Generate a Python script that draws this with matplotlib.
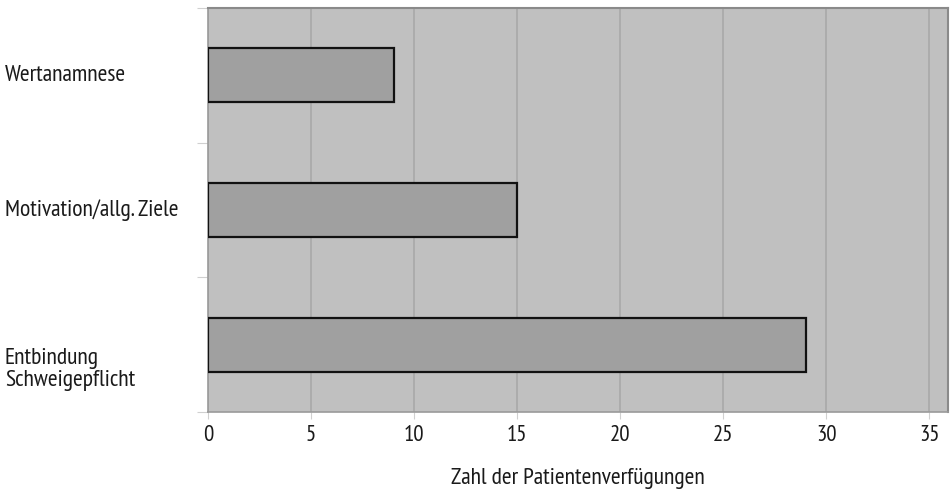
import matplotlib
matplotlib.use('agg')
import matplotlib.pyplot as plt
from matplotlib.transforms import blended_transform_factory, ScaledTranslation

plt.rcParams['font.family'] = ['PT Sans Narrow', 'DejaVu Sans']

# data (top to bottom as shown)
categories = ['Wertanamnese', 'Motivation/allg. Ziele', 'Entbindung\nSchweigepflicht']
counts = [9, 15, 29]
x_ticks = [0, 5, 10, 15, 20, 25, 30, 35]
x_label = 'Zahl der Patientenverfügungen'

fig = plt.figure(figsize=(9.51, 4.94), dpi=100)
ax = fig.add_axes([208 / 951, 1 - 412 / 494, (948 - 208) / 951, (412 - 8) / 494])

ax.set_facecolor('#c0c0c0')
ypos = list(range(len(categories)))
ax.barh(ypos, counts, height=0.4, color='#a0a0a0', edgecolor='#111111', linewidth=1.6, zorder=3)

ax.set_xlim(0, 35.9)
ax.set_ylim(2.5, -0.5)
ax.set_xticks(x_ticks)
ax.set_xticklabels([str(t) for t in x_ticks], fontsize=16.5, color='#1a1a1a')
ax.tick_params(axis='x', length=5, color='#d0d0d0', pad=4)
ax.grid(axis='x', color='#a9a9a9', linewidth=1.2, zorder=1)

# category boundary ticks on the y axis, labels left aligned at figure edge
ax.set_yticks([-0.5, 0.5, 1.5, 2.5])
ax.set_yticklabels([])
ax.tick_params(axis='y', length=8, color='#d0d0d0')
label_tr = blended_transform_factory(fig.transFigure, ax.transData)
for y, lab in zip(ypos, categories):
    # multi-line labels start at the bar centre and hang below it
    shift = ScaledTranslation(0, -18 / 72 * lab.count('\n'), fig.dpi_scale_trans)
    ax.text(5 / 951, y, lab, transform=label_tr + shift,
            ha='left', va='center', fontsize=17, color='#1a1a1a', linespacing=1.1)

ax.set_xlabel(x_label, fontsize=17, color='#1a1a1a', labelpad=16)

for side in ['top', 'right']:
    ax.spines[side].set_color('#8a8a8a')
    ax.spines[side].set_linewidth(1.5)
for side in ['left', 'bottom']:
    ax.spines[side].set_color('#9a9a9a')
    ax.spines[side].set_linewidth(1.2)

plt.savefig('out.png', dpi=100)
